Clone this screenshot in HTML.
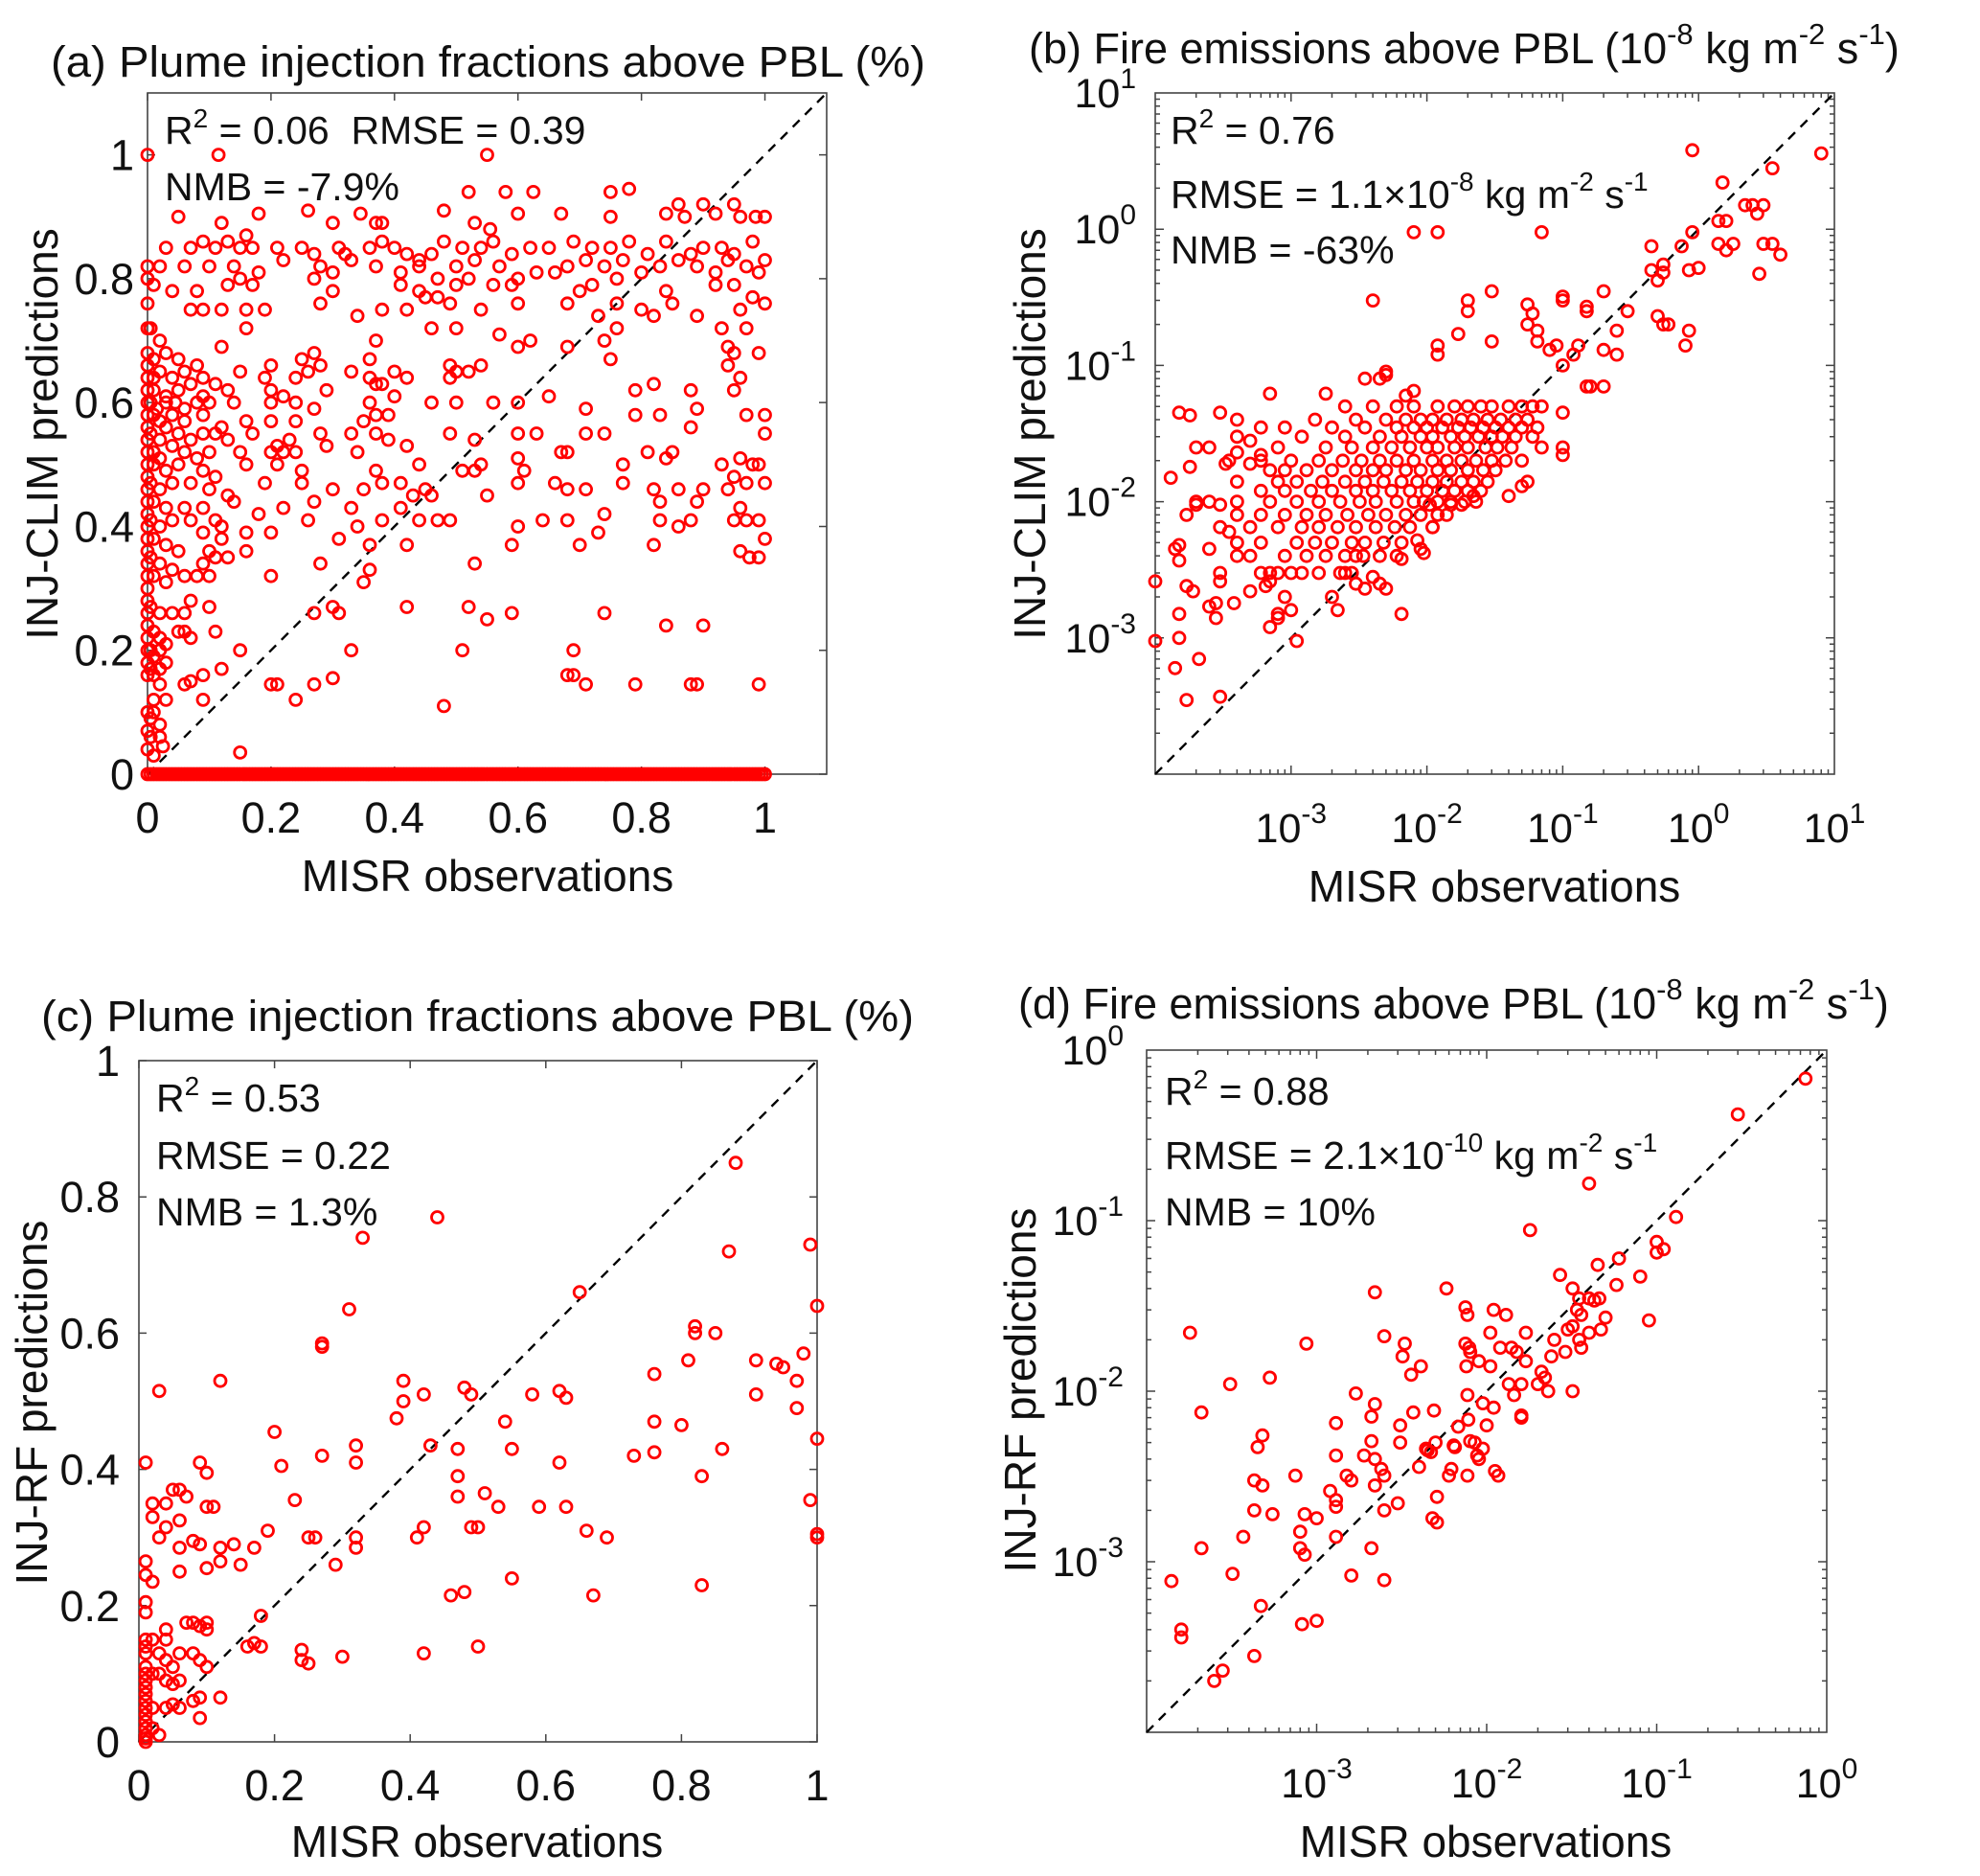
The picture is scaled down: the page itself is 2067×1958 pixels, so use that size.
<!DOCTYPE html>
<html><head><meta charset="utf-8"><style>
html,body{margin:0;padding:0;background:#fff;}
svg{display:block;font-family:"Liberation Sans",Arial,sans-serif;}
</style></head><body>
<svg id="fig" width="2067" height="1958" viewBox="0 0 2067 1958" xmlns="http://www.w3.org/2000/svg"></svg>
<script>
// ---------- DATA ----------
const aPairs=[[0,1.0],[0.115,1.0],[0.55,1.0],[0.52,0.94],[0.58,0.94],[0.625,0.94],[0.75,0.94],[0.78,0.945],[0.05,0.9],[0.12,0.89],[0.18,0.905],[0.26,0.91],[0.30,0.89],[0.345,0.905],[0.38,0.89],[0.48,0.91],[0.53,0.89],[0.6,0.905],[0.67,0.905],[0.75,0.9],[0.84,0.905],[0.86,0.92],[0.9,0.92],[0.92,0.905],[0.95,0.92],[0.96,0.9],[0.985,0.9],[1.0,0.9],[0.87,0.9],[0.555,0.88],[0.37,0.89],
[0.03,0.85],[0.07,0.85],[0.09,0.86],[0.11,0.85],[0.13,0.86],[0.15,0.85],[0.16,0.87],[0.17,0.85],[0.21,0.85],[0.25,0.85],[0.27,0.84],[0.31,0.85],[0.32,0.84],[0.36,0.85],[0.38,0.86],[0.4,0.85],[0.42,0.84],[0.44,0.83],[0.46,0.84],[0.48,0.86],[0.51,0.85],[0.54,0.85],[0.56,0.86],[0.59,0.84],[0.62,0.85],[0.65,0.85],[0.69,0.86],[0.72,0.85],[0.75,0.85],[0.78,0.86],[0.81,0.84],[0.84,0.86],[0.88,0.84],[0.9,0.85],[0.93,0.85],[0.95,0.84],[0.98,0.86],[1.0,0.83],
[0.02,0.82],[0.06,0.82],[0.1,0.82],[0.14,0.82],[0.18,0.81],[0.22,0.83],[0.28,0.82],[0.3,0.81],[0.33,0.83],[0.37,0.82],[0.41,0.81],[0.44,0.82],[0.47,0.8],[0.5,0.82],[0.53,0.83],[0.57,0.82],[0.6,0.8],[0.63,0.81],[0.66,0.81],[0.68,0.82],[0.71,0.83],[0.74,0.82],[0.77,0.83],[0.8,0.81],[0.83,0.82],[0.86,0.83],[0.89,0.82],[0.92,0.81],[0.94,0.83],[0.97,0.82],[0.99,0.81],
[0.01,0.79],[0.04,0.78],[0.08,0.78],[0.13,0.79],[0.15,0.8],[0.17,0.79],[0.27,0.8],[0.3,0.78],[0.41,0.79],[0.44,0.78],[0.47,0.77],[0.5,0.79],[0.52,0.8],[0.56,0.79],[0.59,0.79],[0.7,0.78],[0.72,0.79],[0.76,0.8],[0.84,0.78],[0.92,0.79],[0.95,0.79],[0.98,0.77],
[0.07,0.75],[0.09,0.75],[0.12,0.75],[0.16,0.75],[0.19,0.75],[0.28,0.76],[0.34,0.74],[0.38,0.75],[0.42,0.75],[0.45,0.77],[0.49,0.76],[0.54,0.75],[0.6,0.76],[0.68,0.76],[0.73,0.74],[0.76,0.76],[0.8,0.75],[0.82,0.74],[0.85,0.76],[0.89,0.74],[0.96,0.75],[1.0,0.76],
[0.005,0.72],[0.02,0.7],[0.16,0.72],[0.37,0.7],[0.46,0.72],[0.5,0.72],[0.57,0.71],[0.6,0.69],[0.62,0.7],[0.68,0.69],[0.74,0.7],[0.76,0.72],[0.93,0.72],[0.97,0.72],
[0.01,0.67],[0.03,0.68],[0.05,0.67],[0.08,0.66],[0.12,0.69],[0.2,0.66],[0.25,0.67],[0.27,0.68],[0.28,0.66],[0.36,0.67],[0.49,0.66],[0.54,0.66],[0.75,0.67],[0.94,0.69],[0.95,0.68],[0.99,0.68],
[0.01,0.64],[0.02,0.65],[0.04,0.64],[0.06,0.65],[0.09,0.64],[0.11,0.63],[0.15,0.65],[0.19,0.64],[0.24,0.64],[0.26,0.65],[0.33,0.65],[0.36,0.64],[0.4,0.65],[0.42,0.64],[0.49,0.64],[0.5,0.65],[0.52,0.65],[0.94,0.66],[0.96,0.64],
[0.01,0.62],[0.03,0.61],[0.05,0.62],[0.07,0.63],[0.09,0.61],[0.13,0.62],[0.2,0.62],[0.22,0.61],[0.29,0.62],[0.37,0.63],[0.38,0.63],[0.4,0.61],[0.79,0.62],[0.82,0.63],[0.88,0.62],[0.95,0.62],
[0.005,0.6],[0.015,0.59],[0.03,0.6],[0.045,0.6],[0.06,0.59],[0.08,0.6],[0.1,0.6],[0.14,0.6],[0.2,0.6],[0.24,0.6],[0.27,0.59],[0.36,0.6],[0.46,0.6],[0.5,0.6],[0.56,0.6],[0.6,0.6],[0.65,0.61],
[0.01,0.58],[0.02,0.57],[0.04,0.58],[0.06,0.57],[0.09,0.58],[0.12,0.56],[0.16,0.57],[0.2,0.57],[0.24,0.57],[0.35,0.57],[0.37,0.58],[0.39,0.58],[0.71,0.59],[0.79,0.58],[0.83,0.58],[0.89,0.59],[0.97,0.58],[1.0,0.58],
[0.005,0.55],[0.02,0.54],[0.03,0.56],[0.05,0.55],[0.07,0.54],[0.09,0.55],[0.11,0.55],[0.13,0.54],[0.17,0.55],[0.21,0.53],[0.23,0.54],[0.28,0.55],[0.33,0.55],[0.37,0.55],[0.39,0.54],[0.49,0.55],[0.53,0.54],[0.6,0.55],[0.63,0.55],[0.71,0.55],[0.74,0.55],[0.88,0.56],[1.0,0.55],
[0.01,0.52],[0.02,0.51],[0.04,0.53],[0.06,0.52],[0.08,0.51],[0.1,0.52],[0.15,0.52],[0.2,0.52],[0.22,0.52],[0.24,0.52],[0.29,0.53],[0.34,0.52],[0.42,0.53],[0.6,0.51],[0.67,0.52],[0.68,0.52],[0.81,0.52],[0.84,0.51],[0.85,0.52],[0.96,0.51],[0.99,0.5],
[0.01,0.5],[0.03,0.49],[0.05,0.5],[0.09,0.49],[0.11,0.48],[0.16,0.5],[0.21,0.5],[0.25,0.49],[0.37,0.49],[0.44,0.5],[0.54,0.5],[0.61,0.49],[0.77,0.5],[0.93,0.5],[0.95,0.48],[0.98,0.5],
[0.005,0.47],[0.02,0.46],[0.04,0.47],[0.07,0.47],[0.1,0.46],[0.13,0.45],[0.19,0.47],[0.25,0.47],[0.3,0.46],[0.35,0.46],[0.38,0.47],[0.41,0.47],[0.45,0.46],[0.51,0.49],[0.53,0.49],[0.6,0.47],[0.66,0.47],[0.68,0.46],[0.71,0.46],[0.77,0.47],[0.82,0.46],[0.86,0.46],[0.9,0.46],[0.94,0.46],[0.97,0.47],[1.0,0.47],
[0.01,0.44],[0.03,0.43],[0.06,0.43],[0.09,0.43],[0.11,0.41],[0.14,0.44],[0.18,0.42],[0.22,0.43],[0.27,0.44],[0.33,0.43],[0.41,0.43],[0.43,0.45],[0.46,0.45],[0.55,0.45],[0.74,0.42],[0.83,0.44],[0.89,0.44],[0.96,0.43],
[0.005,0.41],[0.02,0.4],[0.04,0.41],[0.07,0.41],[0.09,0.39],[0.12,0.4],[0.16,0.39],[0.2,0.39],[0.26,0.41],[0.34,0.4],[0.38,0.41],[0.44,0.41],[0.47,0.41],[0.49,0.41],[0.6,0.4],[0.64,0.41],[0.68,0.41],[0.73,0.39],[0.83,0.41],[0.86,0.4],[0.88,0.41],[0.95,0.41],[0.97,0.41],[0.99,0.41],
[0.01,0.38],[0.03,0.37],[0.05,0.36],[0.1,0.36],[0.12,0.38],[0.16,0.36],[0.31,0.38],[0.36,0.37],[0.42,0.37],[0.59,0.37],[0.7,0.37],[0.82,0.37],[0.96,0.36],[1.0,0.38],
[0.005,0.35],[0.02,0.34],[0.04,0.33],[0.09,0.34],[0.11,0.35],[0.13,0.35],[0.28,0.34],[0.53,0.34],[0.99,0.35],[0.975,0.35],
[0.01,0.32],[0.03,0.31],[0.06,0.32],[0.08,0.32],[0.1,0.32],[0.2,0.32],[0.35,0.31],[0.36,0.33],
[0.005,0.27],[0.02,0.26],[0.04,0.26],[0.06,0.26],[0.07,0.28],[0.1,0.27],[0.27,0.26],[0.3,0.27],[0.31,0.26],[0.42,0.27],[0.52,0.27],[0.59,0.26],[0.74,0.26],
[0.01,0.23],[0.02,0.22],[0.03,0.21],[0.05,0.23],[0.06,0.23],[0.07,0.22],[0.11,0.23],[0.55,0.25],[0.84,0.24],[0.9,0.24],
[0.005,0.2],[0.01,0.19],[0.02,0.2],[0.03,0.18],[0.15,0.2],[0.33,0.2],[0.51,0.2],[0.69,0.2],
[0.005,0.17],[0.01,0.16],[0.02,0.17],[0.07,0.15],[0.09,0.16],[0.12,0.17],
[0.02,0.145],[0.06,0.145],[0.2,0.145],[0.21,0.145],[0.27,0.145],[0.3,0.155],[0.68,0.16],[0.69,0.16],[0.71,0.145],[0.79,0.145],[0.88,0.145],[0.89,0.145],[0.99,0.145],
[0.01,0.12],[0.03,0.12],[0.09,0.12],[0.24,0.12],[0.48,0.11],
[0.005,0.09],[0.01,0.1],[0.02,0.08],[0.005,0.06],[0.02,0.06],[0.025,0.045],[0.01,0.03],[0.15,0.035],
[0,0.16],[0,0.18],[0,0.2],[0,0.22],[0,0.24],[0,0.26],[0,0.28],[0,0.3],[0,0.32],[0,0.34],[0,0.36],[0,0.38],[0,0.4],[0,0.42],[0,0.44],[0,0.46],[0,0.48],[0,0.5],[0,0.52],[0,0.54],[0,0.56],[0,0.58],[0,0.6],[0,0.62],[0,0.64],[0,0.66],[0,0.68],[0,0.72],[0,0.76],[0,0.8],[0,0.82],[0,0.1],[0,0.07],[0,0.04],
[0,0],[0.01,0],[0.02,0],[0.03,0],[0.04,0],[0.05,0],[0.06,0],[0.07,0],[0.08,0],[0.09,0],[0.1,0],[0.11,0],[0.12,0],[0.13,0],[0.14,0],[0.15,0],[0.16,0],[0.17,0],[0.18,0],[0.19,0],[0.2,0],[0.21,0],[0.22,0],[0.23,0],[0.24,0],[0.25,0],[0.26,0],[0.27,0],[0.28,0],[0.29,0],[0.3,0],[0.31,0],[0.32,0],[0.33,0],[0.34,0],[0.35,0],[0.36,0],[0.37,0],[0.38,0],[0.39,0],[0.4,0],[0.41,0],[0.42,0],[0.43,0],[0.44,0],[0.45,0],[0.46,0],[0.47,0],[0.48,0],[0.49,0],[0.5,0],[0.51,0],[0.52,0],[0.53,0],[0.54,0],[0.55,0],[0.56,0],[0.57,0],[0.58,0],[0.59,0],[0.6,0],[0.61,0],[0.62,0],[0.63,0],[0.64,0],[0.65,0],[0.66,0],[0.67,0],[0.68,0],[0.69,0],[0.7,0],[0.71,0],[0.72,0],[0.73,0],[0.74,0],[0.75,0],[0.76,0],[0.77,0],[0.78,0],[0.79,0],[0.8,0],[0.81,0],[0.82,0],[0.83,0],[0.84,0],[0.85,0],[0.86,0],[0.87,0],[0.88,0],[0.89,0],[0.9,0],[0.91,0],[0.92,0],[0.93,0],[0.94,0],[0.95,0],[0.96,0],[0.97,0],[0.98,0],[0.99,0],[1.0,0],[0.005,0],[0.015,0],[0.025,0],[0.035,0],[0.045,0],[0.055,0],[0.065,0],[0.075,0],[0.085,0],[0.095,0],
[0.105,0],[0.115,0],[0.125,0],[0.135,0],[0.145,0],[0.155,0],[0.165,0],[0.175,0],[0.185,0],[0.195,0],[0.205,0],[0.215,0],[0.225,0],[0.235,0],[0.245,0],[0.255,0],[0.265,0],[0.275,0],[0.285,0],[0.295,0],[0.305,0],[0.315,0],[0.325,0],[0.335,0],[0.345,0],[0.355,0],[0.365,0],[0.375,0],[0.385,0],[0.395,0],[0.405,0],[0.415,0],[0.425,0],[0.435,0],[0.445,0],[0.455,0],[0.465,0],[0.475,0],[0.485,0],[0.495,0],[0.505,0],[0.515,0],[0.525,0],[0.535,0],[0.545,0],[0.555,0],[0.565,0],[0.575,0],[0.585,0],[0.595,0],[0.605,0],[0.615,0],[0.625,0],[0.635,0],[0.645,0],[0.655,0],[0.665,0],[0.675,0],[0.685,0],[0.695,0],[0.705,0],[0.715,0],[0.725,0],[0.735,0],[0.745,0],[0.755,0],[0.765,0],[0.775,0],[0.785,0],[0.795,0],[0.805,0],[0.815,0],[0.825,0],[0.835,0],[0.845,0],[0.855,0],[0.865,0],[0.875,0],[0.885,0],[0.895,0],[0.905,0],[0.915,0],[0.925,0],[0.935,0],[0.945,0],[0.955,0],[0.965,0],[0.975,0],[0.985,0],[0.995,0]];

const bPairs=[[0.9,3.8],[8,3.6],[3.5,2.8],[1.5,2.2],[2.5,1.5],[2.2,1.5],[3,1.5],[2.7,1.3],[1.4,1.15],[1.6,1.15],[0.9,0.95],[0.75,0.75],[1.4,0.78],[1.8,0.78],[1.6,0.7],[3,0.78],[3.5,0.78],[4,0.65],[2.8,0.47],[1,0.52],[0.85,0.5],[0.45,0.75],[0.45,0.5],[0.5,0.42],[0.55,0.55],[0.55,0.48],[0.5,0.23],[0.55,0.2],[0.6,0.2],[0.85,0.18],[0.8,0.14],[0.008,0.95],[0.012,0.95],[0.07,0.95],[0.004,0.3],[0.3,0.25],[0.25,0.18],[0.25,0.12],[0.2,0.35],[0.2,0.13],[0.2,0.07],[0.15,0.25],[0.15,0.27],[0.1,0.3],[0.1,0.32],[0.03,0.35],[0.02,0.3],[0.02,0.25],[0.055,0.28],[0.06,0.24],[0.065,0.18],[0.055,0.2],[0.065,0.15],[0.03,0.15],[0.012,0.14],[0.012,0.12],[0.017,0.17],[0.16,0.07],[0.15,0.07],[0.12,0.12],[0.13,0.14],[0.1,0.1],[0.09,0.14],[0.08,0.13],[0.1,0.045],[0.1,0.022],[0.005,0.09],[0.005,0.085],[0.0045,0.08],[0.008,0.065],[0.007,0.06],[0.0035,0.08],[0.0018,0.062],[0.0007,0.062],[0.00015,0.045],[0.00018,0.043],[0.0003,0.045],[0.0004,0.04],[0.00025,0.025],[0.0002,0.025],[0.00018,0.018],[0.00013,0.015],[0.0004,0.023],[0.0005,0.028],[0.0006,0.022],[0.0005,0.019],[0.00035,0.02],[0.00033,0.019],[0.00025,0.01],[0.0003,0.0095],[0.00017,0.008],[0.0002,0.0095],[0.00025,0.0045],[0.00035,0.006],[0.00014,0.0045],[0.00015,0.0048],[0.00015,0.0037],[0.0001,0.0026],[0.00017,0.0024],[0.00019,0.0022],[0.00015,0.0015],[0.0001,0.00095],[0.00015,0.001],[0.00014,0.0006],[0.00021,0.0007],[0.00017,0.00035],[0.0003,0.00037],[0.00025,0.0017],[0.00028,0.0018],[0.00028,0.0014],[0.00038,0.0018],[0.0003,0.0026],[0.0005,0.0022],[0.00065,0.0024],[0.0007,0.0012],[0.0008,0.0014],[0.0008,0.0015],[0.0011,0.00095],[0.001,0.0016],[0.0009,0.002],[0.0007,0.0026],[0.0007,0.003],[0.001,0.003],[0.0022,0.0016],[0.0065,0.0015],[0.002,0.002],[0.0025,0.003],[0.003,0.0025],[0.0035,0.0023],[0.004,0.0028],[0.0045,0.0025],[0.005,0.0023],[0.003,0.004],[0.0045,0.004],[0.006,0.004],[0.0065,0.0038],[0.009,0.0045],[0.0095,0.0042],[0.0085,0.0052],[0.011,0.0065],[0.0105,0.0095],[0.015,0.0095],[0.018,0.0095],[0.022,0.011],[0.04,0.011],[0.05,0.013],[0.1,0.025],
[0.0025,0.05],[0.004,0.05],[0.006,0.05],[0.008,0.05],[0.012,0.05],[0.016,0.05],[0.02,0.05],[0.025,0.05],[0.03,0.05],[0.04,0.05],[0.05,0.05],[0.06,0.05],[0.07,0.05],
[0.0015,0.04],[0.003,0.04],[0.005,0.04],[0.007,0.04],[0.009,0.04],[0.011,0.04],[0.014,0.04],[0.018,0.04],[0.022,0.04],[0.028,0.04],[0.035,0.04],[0.045,0.04],[0.055,0.04],
[0.0006,0.035],[0.0009,0.035],[0.002,0.035],[0.0035,0.035],[0.006,0.035],[0.008,0.035],[0.01,0.035],[0.013,0.035],[0.017,0.035],[0.021,0.035],[0.026,0.035],[0.032,0.035],[0.04,0.035],[0.05,0.035],[0.065,0.035],
[0.0004,0.03],[0.0012,0.03],[0.0025,0.03],[0.0045,0.03],[0.0065,0.03],[0.009,0.03],[0.011,0.03],[0.015,0.03],[0.019,0.03],[0.024,0.03],[0.03,0.03],[0.036,0.03],[0.045,0.03],[0.06,0.03],
[0.0008,0.025],[0.0018,0.025],[0.0028,0.025],[0.004,0.025],[0.0055,0.025],[0.0075,0.025],[0.01,0.025],[0.012,0.025],[0.016,0.025],[0.02,0.025],[0.027,0.025],[0.033,0.025],[0.042,0.025],[0.07,0.025],
[0.0006,0.02],[0.001,0.02],[0.0016,0.02],[0.0024,0.02],[0.0033,0.02],[0.0045,0.02],[0.006,0.02],[0.008,0.02],[0.011,0.02],[0.014,0.02],[0.018,0.02],[0.023,0.02],[0.03,0.02],[0.038,0.02],[0.05,0.02],
[0.0007,0.017],[0.0009,0.017],[0.0013,0.017],[0.002,0.017],[0.003,0.017],[0.004,0.017],[0.005,0.017],[0.007,0.017],[0.009,0.017],[0.012,0.017],[0.015,0.017],[0.02,0.017],[0.026,0.017],[0.032,0.017],
[0.0004,0.014],[0.0008,0.014],[0.0011,0.014],[0.0017,0.014],[0.0025,0.014],[0.0035,0.014],[0.0048,0.014],[0.0065,0.014],[0.0085,0.014],[0.011,0.014],[0.014,0.014],[0.018,0.014],[0.022,0.014],[0.028,0.014],[0.055,0.014],
[0.0006,0.012],[0.0009,0.012],[0.0014,0.012],[0.002,0.012],[0.003,0.012],[0.004,0.012],[0.0055,0.012],[0.0075,0.012],[0.01,0.012],[0.013,0.012],[0.016,0.012],[0.02,0.012],[0.025,0.012],
[0.0002,0.01],[0.0004,0.01],[0.0007,0.01],[0.0011,0.01],[0.0016,0.01],[0.0023,0.01],[0.0032,0.01],[0.0042,0.01],[0.006,0.01],[0.008,0.01],[0.0095,0.01],[0.012,0.01],[0.015,0.01],[0.019,0.01],[0.023,0.01],
[0.0004,0.008],[0.0006,0.008],[0.0009,0.008],[0.0013,0.008],[0.0018,0.008],[0.0026,0.008],[0.0037,0.008],[0.005,0.008],[0.007,0.008],[0.009,0.008],[0.012,0.008],[0.014,0.008],
[0.0003,0.0065],[0.0005,0.0065],[0.0008,0.0065],[0.0012,0.0065],[0.0016,0.0065],[0.0022,0.0065],[0.003,0.0065],[0.0042,0.0065],[0.0058,0.0065],[0.0075,0.0065],[0.011,0.0065],
[0.0004,0.005],[0.0006,0.005],[0.0011,0.005],[0.0015,0.005],[0.002,0.005],[0.0028,0.005],[0.0035,0.005],[0.0048,0.005],[0.0065,0.005],
[0.0004,0.004],[0.0005,0.004],[0.0009,0.004],[0.0013,0.004],[0.0018,0.004],[0.0025,0.004],[0.0034,0.004],
[0.0003,0.003],[0.0006,0.003],[0.0008,0.003],[0.0012,0.003],[0.0016,0.003],[0.0023,0.003],[0.0028,0.003]];

const cPairs=[[0.88,0.85],[0.44,0.77],[0.33,0.74],[0.99,0.73],[0.87,0.72],[0.65,0.66],[1.0,0.64],[0.31,0.635],[0.82,0.61],[0.82,0.6],[0.85,0.6],[0.27,0.585],[0.27,0.58],[0.98,0.57],[0.81,0.56],[0.91,0.56],[0.94,0.555],[0.95,0.55],[0.76,0.54],[0.97,0.53],[0.12,0.53],[0.39,0.53],[0.48,0.52],[0.62,0.515],[0.03,0.515],[0.49,0.51],[0.42,0.51],[0.58,0.51],[0.91,0.51],[0.63,0.505],[0.39,0.5],[0.97,0.49],[0.38,0.475],[0.54,0.47],[0.76,0.47],[0.80,0.465],[0.2,0.455],[0.43,0.435],[0.32,0.435],[0.86,0.43],[0.47,0.43],[0.55,0.43],[1.0,0.445],[0.27,0.42],[0.73,0.42],[0.76,0.425],[0.01,0.41],[0.32,0.41],[0.09,0.41],[0.21,0.405],[0.62,0.41],[0.1,0.395],[0.47,0.39],[0.83,0.39],[0.05,0.37],[0.06,0.37],[0.07,0.36],[0.47,0.36],[0.51,0.365],[0.02,0.35],[0.04,0.35],[0.1,0.345],[0.11,0.345],[0.23,0.355],[0.53,0.345],[0.59,0.345],[0.63,0.345],[0.99,0.355],[0.02,0.33],[0.06,0.325],[0.04,0.315],[0.19,0.31],[0.03,0.3],[0.25,0.3],[0.26,0.3],[0.32,0.3],[0.41,0.3],[0.42,0.315],[0.49,0.315],[0.5,0.315],[0.66,0.31],[0.69,0.3],[1.0,0.305],[1.0,0.3],[0.08,0.295],[0.09,0.29],[0.06,0.285],[0.12,0.285],[0.14,0.29],[0.17,0.285],[0.32,0.285],[0.12,0.265],[0.15,0.26],[0.1,0.255],[0.29,0.26],[0.01,0.265],[0.01,0.245],[0.02,0.235],[0.06,0.25],[0.55,0.24],[0.83,0.23],[0.46,0.215],[0.48,0.22],[0.67,0.215],[0.01,0.205],[0.01,0.19],[0.18,0.185],[0.04,0.165],[0.07,0.175],[0.08,0.175],[0.09,0.17],[0.1,0.175],[0.1,0.165],[0.01,0.15],[0.01,0.14],[0.01,0.13],[0.02,0.15],[0.04,0.15],[0.03,0.13],[0.04,0.12],[0.05,0.11],[0.06,0.13],[0.08,0.13],[0.09,0.12],[0.1,0.11],[0.17,0.145],[0.16,0.14],[0.18,0.14],[0.24,0.135],[0.24,0.12],[0.25,0.115],[0.3,0.125],[0.42,0.13],[0.5,0.14],[0.01,0.11],[0.01,0.1],[0.01,0.09],[0.01,0.08],[0.02,0.1],[0.03,0.1],[0.04,0.09],[0.05,0.085],[0.06,0.09],[0.01,0.07],[0.01,0.06],[0.01,0.05],[0.01,0.04],[0.02,0.05],[0.04,0.05],[0.05,0.055],[0.06,0.05],[0.12,0.065],[0.09,0.065],[0.08,0.06],[0.09,0.035],[0.01,0.03],[0.01,0.02],[0.01,0.01],[0.01,0.005],[0.02,0.02],[0.03,0.01],[0.01,0.0]];

const dPairs=[[0.75,0.68],[0.3,0.42],[0.04,0.165],[0.13,0.105],[0.1,0.075],[0.1,0.065],[0.11,0.068],[0.018,0.088],[0.06,0.06],[0.045,0.055],[0.09,0.026],[0.08,0.047],[0.058,0.042],[0.027,0.048],[0.032,0.04],[0.035,0.035],[0.04,0.035],[0.043,0.034],[0.046,0.035],[0.034,0.03],[0.036,0.028],[0.05,0.027],[0.047,0.023],[0.03,0.023],[0.032,0.024],[0.04,0.022],[0.035,0.02],[0.036,0.018],[0.029,0.017],[0.024,0.016],[0.025,0.02],[0.021,0.013],[0.022,0.012],[0.02,0.011],[0.023,0.01],[0.032,0.01],[0.017,0.022],[0.017,0.015],[0.016,0.011],[0.015,0.017],[0.014,0.018],[0.012,0.018],[0.013,0.028],[0.011,0.03],[0.0105,0.022],[0.0105,0.014],[0.0135,0.011],[0.0145,0.0095],[0.016,0.0072],[0.016,0.007],[0.0075,0.031],[0.0077,0.028],[0.0075,0.019],[0.008,0.017],[0.0079,0.018],[0.009,0.015],[0.0076,0.014],[0.0077,0.0095],[0.0095,0.0085],[0.0078,0.0068],[0.01,0.0063],[0.011,0.008],[0.0068,0.0062],[0.0064,0.0048],[0.008,0.0051],[0.0085,0.005],[0.0095,0.0046],[0.0088,0.0042],[0.009,0.004],[0.0077,0.0032],[0.0112,0.0034],[0.0117,0.0032],[0.0058,0.04],[0.0022,0.038],[0.0025,0.021],[0.0033,0.019],[0.0032,0.016],[0.0041,0.014],[0.0036,0.0125],[0.0037,0.0075],[0.0049,0.0077],[0.0017,0.0097],[0.0022,0.0084],[0.0021,0.0071],[0.0031,0.0063],[0.0013,0.0065],[0.0021,0.0051],[0.0031,0.005],[0.0019,0.0042],[0.0013,0.0042],[0.0022,0.004],[0.0024,0.0035],[0.0025,0.0032],[0.0015,0.0032],[0.0016,0.003],[0.0022,0.0028],[0.004,0.0036],[0.0045,0.0045],[0.0044,0.0046],[0.0047,0.0044],[0.005,0.005],[0.006,0.0032],[0.0062,0.0035],[0.0065,0.0047],[0.0051,0.0024],[0.0048,0.0018],[0.0051,0.0017],[0.003,0.0022],[0.0025,0.002],[0.0012,0.0026],[0.0013,0.0023],[0.0013,0.0021],[0.001,0.0018],[0.0013,0.0014],[0.00075,0.0032],[0.00085,0.0019],[0.0008,0.0015],[0.0008,0.0012],[0.00085,0.0011],[0.0021,0.0012],[0.0016,0.00083],[0.0025,0.00078],[0.00082,0.00043],[0.001,0.00045],[0.00048,0.0055],[0.00045,0.0047],[0.00043,0.003],[0.00048,0.0028],[0.00043,0.002],[0.00055,0.0019],[0.00037,0.0014],[0.00032,0.00085],[0.00047,0.00055],[0.00043,0.00028],[0.00028,0.00023],[0.00025,0.0002],[0.00021,0.0012],[0.00021,0.0075],[0.00018,0.022],[0.00031,0.011],[0.00053,0.012],[0.00087,0.019],[0.00014,0.00077],[0.00016,0.0004],[0.00016,0.00036]];

const linTicks=[0,0.2,0.4,0.6,0.8,1];
const linTickLabels=["0","0.2","0.4","0.6","0.8","1"];
const bExps=[-3,-2,-1,0,1];
const bYExps=[-3,-2,-1,0,1];
const dExps=[-3,-2,-1,0];
const dYExps=[-3,-2,-1,0];

// ---------- DRAW ----------
const NS="http://www.w3.org/2000/svg";
const svg=document.getElementById('fig');
function el(tag,attrs,parent){const e=document.createElementNS(NS,tag);for(const k in attrs)e.setAttribute(k,attrs[k]);(parent||svg).appendChild(e);return e;}

function makeScale(P){
  if(P.log){
    const sx=v=>P.L+(Math.log10(v)-P.xr[0])/(P.xr[1]-P.xr[0])*(P.R-P.L);
    const sy=v=>P.B-(Math.log10(v)-P.yr[0])/(P.yr[1]-P.yr[0])*(P.B-P.T);
    return [sx,sy];
  }
  const sx=v=>P.L+(v-P.xr[0])/(P.xr[1]-P.xr[0])*(P.R-P.L);
  const sy=v=>P.B-(v-P.yr[0])/(P.yr[1]-P.yr[0])*(P.B-P.T);
  return [sx,sy];
}

function drawPanel(P,pairs){
  const g=el('g',{});
  
  
  const [sx,sy]=makeScale(P);
  const fr=el('rect',{x:P.L,y:P.T,width:P.R-P.L,height:P.B-P.T,fill:'none',stroke:'#444','stroke-width':1.6},g);
  
  
  let tp='';
  if(P.log){
    for(let e=P.xr[0];e<P.xr[1];e++){
      for(let m=1;m<10;m++){const v=m*Math.pow(10,e);const x=sx(v);const len=(m===1)?9:5;
        if(m===1&&e===P.xr[0])continue;
        tp+=`M${x},${P.B}v${-len}M${x},${P.T}v${len}`;}
    }
    for(let e=P.yr[0];e<P.yr[1];e++){
      for(let m=1;m<10;m++){const v=m*Math.pow(10,e);const y=sy(v);const len=(m===1)?9:5;
        if(m===1&&e===P.yr[0])continue;
        tp+=`M${P.L},${y}h${len}M${P.R},${y}h${-len}`;}
    }
  }else{
    linTicks.forEach(v=>{const x=sx(v),y=sy(v);tp+=`M${x},${P.B}v-8M${x},${P.T}v8M${P.L},${y}h8M${P.R},${y}h-8`;});
  }
  const tk=el('path',{d:tp,stroke:'#444','stroke-width':1.5,fill:'none'},g);
  
  
  const lo=P.log?Math.pow(10,P.xr[0]):P.xr[0], hi=P.log?Math.pow(10,P.xr[1]):P.xr[1];
  const dg=el('line',{x1:sx(lo),y1:sy(lo),x2:sx(hi),y2:sy(hi),stroke:'#000','stroke-width':2.4,'stroke-dasharray':'10,8'},g);
  
  
  const pg=el('g',{fill:'none',stroke:'#ff0000','stroke-width':2.8},g);
  
  
  pairs.forEach(p=>{
    const c=el('circle',{cx:sx(p[0]).toFixed(1),cy:sy(p[1]).toFixed(1),r:6},pg);
    
    
  });
  if(P.log){
    P.xe.forEach(e=>{
      const t=el('text',{x:sx(Math.pow(10,e)),y:P.xlabY,'font-size':43,'text-anchor':'middle',fill:'#111'},g);
      
      
      t.innerHTML=`10<tspan dy="-20" font-size="30">${e}</tspan>`;
    });
    P.ye.forEach(e=>{
      const t=el('text',{x:P.L-P.ylabOff,y:sy(Math.pow(10,e))+15,'font-size':43,'text-anchor':'end',fill:'#111'},g);
      
      
      t.innerHTML=`10<tspan dy="-20" font-size="30">${e}</tspan>`;
    });
  }else{
    linTicks.forEach((v,i)=>{
      const t=el('text',{x:sx(v),y:P.xlabY,'font-size':45,'text-anchor':'middle',fill:'#111'},g);
      
      
      t.textContent=linTickLabels[i];
      const u=el('text',{x:P.L-P.ylabOff,y:sy(v)+16,'font-size':45,'text-anchor':'end',fill:'#111'},g);
      
      
      u.textContent=linTickLabels[i];
    });
  }
}

const panels=[
 {name:'panel-a',L:154,R:863,T:97,B:808,xr:[0,1.1],yr:[0,1.1],log:false,xlabY:869,ylabOff:14},
 {name:'panel-b',L:1206,R:1915,T:97,B:808,xr:[-4,1],yr:[-4,1],log:true,xe:bExps,ye:bYExps,xlabY:879,ylabOff:20},
 {name:'panel-c',L:145,R:853,T:1107,B:1818,xr:[0,1],yr:[0,1],log:false,xlabY:1879,ylabOff:20},
 {name:'panel-d',L:1197,R:1907,T:1096,B:1808,xr:[-4,0],yr:[-4,0],log:true,xe:dExps,ye:dYExps,xlabY:1876,ylabOff:24}
];
drawPanel(panels[0],aPairs);
drawPanel(panels[1],bPairs);
drawPanel(panels[2],cPairs);
drawPanel(panels[3],dPairs);
</script>
<script>
(function(){
const NS="http://www.w3.org/2000/svg";
const svg=document.getElementById('fig');
const items=[
 ['title-a',53,80,45,'start','(a) Plume injection fractions above PBL (%)',913],
 ['title-c',43,1076,45,'start','(c) Plume injection fractions above PBL (%)',911],
 ['title-b',1074,66,45,'start','(b) Fire emissions above PBL (10<tspan dy="-20" font-size="31">-8</tspan><tspan dy="20"> kg m</tspan><tspan dy="-20" font-size="31">-2</tspan><tspan dy="20"> s</tspan><tspan dy="-20" font-size="31">-1</tspan><tspan dy="20">)</tspan>',0],
 ['title-d',1063,1063,45,'start','(d) Fire emissions above PBL (10<tspan dy="-20" font-size="31">-8</tspan><tspan dy="20"> kg m</tspan><tspan dy="-20" font-size="31">-2</tspan><tspan dy="20"> s</tspan><tspan dy="-20" font-size="31">-1</tspan><tspan dy="20">)</tspan>',0],
 ['x-axis-title-a',509,930,46,'middle','MISR observations',0],
 ['x-axis-title-b',1560,941,46,'middle','MISR observations',0],
 ['x-axis-title-c',498,1938,46,'middle','MISR observations',0],
 ['x-axis-title-d',1551,1938,46,'middle','MISR observations',0],
 ['stats-a-line1',172,150,41,'start','R<tspan dy="-17" font-size="28">2</tspan><tspan dy="17"> = 0.06  RMSE = 0.39</tspan>',0],
 ['stats-a-line2',172,209,41,'start','NMB = -7.9%',0],
 ['stats-b-line1',1222,150,41,'start','R<tspan dy="-17" font-size="28">2</tspan><tspan dy="17"> = 0.76</tspan>',0],
 ['stats-b-line2',1222,217,41,'start','RMSE = 1.1×10<tspan dy="-18" font-size="28">-8</tspan><tspan dy="18"> kg m</tspan><tspan dy="-18" font-size="28">-2</tspan><tspan dy="18"> s</tspan><tspan dy="-18" font-size="28">-1</tspan>',0],
 ['stats-b-line3',1222,275,41,'start','NMB = -63%',0],
 ['stats-c-line1',163,1160,41,'start','R<tspan dy="-17" font-size="28">2</tspan><tspan dy="17"> = 0.53</tspan>',0],
 ['stats-c-line2',163,1220,41,'start','RMSE = 0.22',0],
 ['stats-c-line3',163,1279,41,'start','NMB = 1.3%',0],
 ['stats-d-line1',1216,1153,41,'start','R<tspan dy="-17" font-size="28">2</tspan><tspan dy="17"> = 0.88</tspan>',0],
 ['stats-d-line2',1216,1220,41,'start','RMSE = 2.1×10<tspan dy="-18" font-size="28">-10</tspan><tspan dy="18"> kg m</tspan><tspan dy="-18" font-size="28">-2</tspan><tspan dy="18"> s</tspan><tspan dy="-18" font-size="28">-1</tspan>',0],
 ['stats-d-line3',1216,1279,41,'start','NMB = 10%',0]
];
items.forEach(it=>{
  const t=document.createElementNS(NS,'text');
  t.setAttribute('x',it[1]);t.setAttribute('y',it[2]);t.setAttribute('font-size',it[3]);
  t.setAttribute('text-anchor',it[4]);t.setAttribute('fill','#111');
  t.setAttribute('xml:space','preserve');t.style.whiteSpace='pre';
  if(it[6]){t.setAttribute('textLength',it[6]);t.setAttribute('lengthAdjust','spacingAndGlyphs');}
  t.innerHTML=it[5];
  
  
  svg.appendChild(t);
});
const yl=[['y-axis-title-a',60,453,'INJ-CLIM predictions'],['y-axis-title-b',1091,453,'INJ-CLIM predictions'],['y-axis-title-c',49,1464,'INJ-RF predictions'],['y-axis-title-d',1081,1451,'INJ-RF predictions']];
yl.forEach(it=>{
  const t=document.createElementNS(NS,'text');
  t.setAttribute('x',0);t.setAttribute('y',0);t.setAttribute('font-size',46);
  t.setAttribute('text-anchor','middle');t.setAttribute('fill','#111');
  t.setAttribute('transform',`translate(${it[1]},${it[2]}) rotate(-90)`);
  t.textContent=it[3];
  
  
  svg.appendChild(t);
});
})();
</script>
</body></html>
